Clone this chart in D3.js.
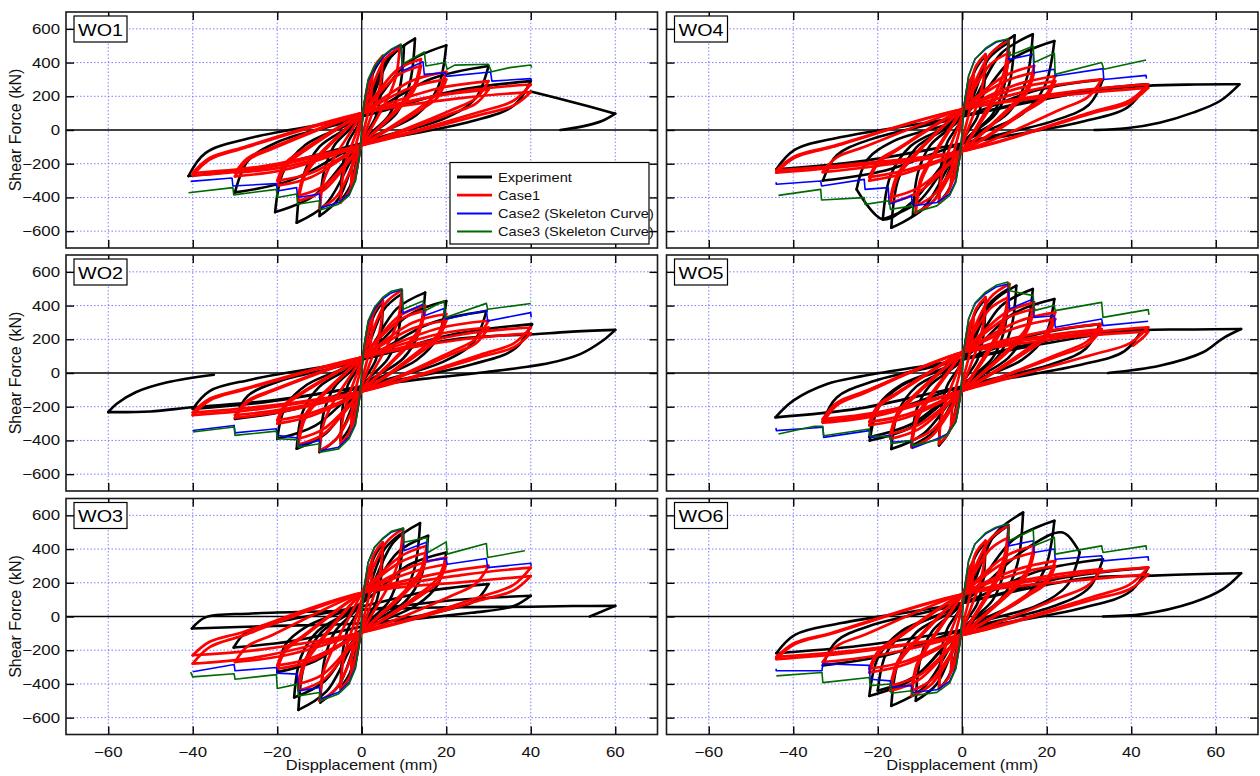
<!DOCTYPE html>
<html>
<head>
<meta charset="utf-8">
<script src="https://cdn.jsdelivr.net/npm/d3@7"></script>
<style>
  body { margin: 0; background: #fff; }
  svg { display: block; font-family: "Liberation Sans", Arial, sans-serif; }
</style>
</head>
<body>
<div id="chart"></div>
<script>
// ---- tick values and names ----
const xTicks = [-60, -40, -20, 0, 20, 40, 60];
const yTicks = [-600, -400, -200, 0, 200, 400, 600];
const panelNames = ['WO1', 'WO2', 'WO3', 'WO4', 'WO5', 'WO6'];
const seriesNames = ['Experiment', 'Case1', 'Case2 (Skeleton Curve)', 'Case3 (Skeleton Curve)'];

// ---- WO1 ----  (loops are [displacement mm, shear kN])
const wo1Experiment = [
  [[5,430],[4.5,215],[3.3,77],[0,-70],[-2.8,-336],[-5,-420],[-4.5,-210],[-3.3,-76],[0,70],[2.8,344]],
  [[10,500],[9,250],[6.5,90],[0,-80],[-5.5,-408],[-10,-510],[-9,-255],[-6.5,-92],[0,80],[5.5,400]],
  [[12.6,542],[11.3,271],[8.2,98],[0,-80],[-8.5,-440],[-15.4,-550],[-13.9,-275],[-10,-99],[0,80],[6.9,434]],
  [[20,502],[18,251],[13,90],[0,-80],[-11.3,-390],[-20.5,-487],[-18.5,-244],[-13.3,-88],[0,80],[11,402]],
  [[30,380],[27,190],[19.5,68],[0,-80],[-16.5,-296],[-30,-370],[-27,-185],[-19.5,-67],[0,80],[16.5,304]],
  [[40,290],[36,145],[26,52],[0,-80],[-22.5,-218],[-41,-273],[-37,-137],[-26.7,-49],[0,80],[22,232]]
];
const wo1ExperimentTail = [
  [[40,229],[50,165],[60,97],[57,55],[52,20],[47,0]]
];
const wo1Case1 = [
  [[2.5,320],[2.25,208],[1.75,128],[0,-50],[-1.5,-272],[-2.5,-320],[-2.25,-208],[-1.75,-128],[0,50],[1.5,272]],
  [[5,440],[4.5,286],[3.5,176],[0,-80],[-3,-366],[-5,-430],[-4.5,-280],[-3.5,-172],[0,80],[3,374]],
  [[9,490],[8.1,318],[6.3,196],[0,-90],[-6,-395],[-10,-465],[-9,-302],[-7,-186],[0,100],[5.4,416]],
  [[14,420],[12.6,273],[9.8,168],[0,-90],[-9,-357],[-15,-420],[-13.5,-273],[-10.5,-168],[0,100],[8.4,357]],
  [[14,380],[12.6,247],[9.8,152],[0,-90],[-9,-332],[-15,-390],[-13.5,-254],[-10.5,-156],[0,100],[8.4,323]],
  [[20,345],[18,224],[14,138],[0,-90],[-12,-280],[-20,-330],[-18,-214],[-14,-132],[0,100],[12,293]],
  [[20,300],[18,195],[14,120],[0,-90],[-12,-255],[-20,-300],[-18,-195],[-14,-120],[0,100],[12,255]],
  [[30,290],[27,188],[21,116],[0,-90],[-18,-234],[-30,-275],[-27,-179],[-21,-110],[0,100],[18,246]],
  [[30,240],[27,156],[21,96],[0,-90],[-18,-217],[-30,-255],[-27,-166],[-21,-102],[0,100],[18,204]],
  [[40,270],[36,175],[28,108],[0,-90],[-24,-230],[-40,-270],[-36,-175],[-28,-108],[0,100],[24,230]],
  [[40,225],[36,146],[28,90],[0,-90],[-24,-217],[-40,-255],[-36,-166],[-28,-102],[0,100],[24,191]]
];
const wo1Case2 = [
  [[0,0],[0.5,150],[1.5,290],[3,370],[5,430],[7,475],[9.3,505],[9.6,350],[14.5,405],[14.8,330],[19.8,340],[20,318],[30.5,344],[30.8,290],[40,305],[40.2,290]],
  [[0,0],[-0.5,-150],[-1.5,-300],[-3,-380],[-5.5,-430],[-9.8,-462],[-10,-380],[-15.2,-400],[-15.4,-342],[-20,-362],[-20.2,-318],[-30.5,-332],[-30.7,-285],[-40.5,-305]]
];
const wo1Case3 = [
  [[0,0],[0.5,150],[1.5,300],[3,380],[5,440],[7,480],[9.3,510],[9.6,390],[14.8,463],[15.2,380],[19.8,400],[20.2,360],[22,385],[30,390],[30.7,345],[35,370],[40,386],[40.2,370]],
  [[0,0],[-0.5,-150],[-1.5,-300],[-3,-390],[-5.5,-440],[-9.8,-475],[-10,-420],[-15.2,-440],[-15.4,-380],[-20,-400],[-20.2,-352],[-30.3,-385],[-30.5,-342],[-41,-372]]
];

// ---- WO2 ----
const wo2Experiment = [
  [[5,420],[4.5,210],[3.3,76],[0,-70],[-2.8,-320],[-5,-400],[-4.5,-200],[-3.3,-72],[0,70],[2.8,336]],
  [[9.5,470],[8.6,235],[6.2,85],[0,-80],[-5.5,-375],[-10,-469],[-9,-235],[-6.5,-84],[0,80],[5.2,376]],
  [[15,477],[13.5,239],[9.8,86],[0,-80],[-8.5,-359],[-15.4,-449],[-13.9,-225],[-10,-81],[0,80],[8.3,382]],
  [[20,427],[18,214],[13,77],[0,-80],[-11,-312],[-20,-390],[-18,-195],[-13,-70],[0,80],[11,342]],
  [[29.5,368],[26.5,184],[19.2,66],[0,-80],[-16.5,-218],[-30,-272],[-27,-136],[-19.5,-49],[0,80],[16.2,294]],
  [[40.3,290],[36.3,145],[26.2,52],[0,-80],[-22,-170],[-40,-213],[-36,-107],[-26,-38],[0,80],[22.2,232]]
];
const wo2ExperimentTail = [
  [[0,-80],[-22,-165],[-40,-203],[-50,-228],[-60,-232],[-58,-183],[-53.5,-114],[-46,-55],[-35,-10]],
  [[0,80],[22,200],[40.8,230],[49,244],[60,256],[57,191],[51.7,112],[44.4,59],[29,4],[14.5,-35],[5,-65]]
];
const wo2Case1 = [
  [[2.5,320],[2.25,208],[1.75,128],[0,-50],[-1.5,-272],[-2.5,-320],[-2.25,-208],[-1.75,-128],[0,50],[1.5,272]],
  [[5,430],[4.5,280],[3.5,172],[0,-80],[-3,-357],[-5,-420],[-4.5,-273],[-3.5,-168],[0,80],[3,366]],
  [[9.5,490],[8.6,318],[6.7,196],[0,-110],[-6,-391],[-10,-460],[-9,-299],[-7,-184],[0,93],[5.7,416]],
  [[15,400],[13.5,260],[10.5,160],[0,-110],[-9,-361],[-15,-425],[-13.5,-276],[-10.5,-170],[0,93],[9,340]],
  [[15,370],[13.5,240],[10.5,148],[0,-110],[-9,-332],[-15,-390],[-13.5,-254],[-10.5,-156],[0,93],[9,315]],
  [[20,350],[18,228],[14,140],[0,-110],[-12,-255],[-20,-300],[-18,-195],[-14,-120],[0,93],[12,298]],
  [[20,310],[18,202],[14,124],[0,-110],[-12,-238],[-20,-280],[-18,-182],[-14,-112],[0,93],[12,264]],
  [[30,310],[27,202],[21,124],[0,-110],[-18,-225],[-30,-265],[-27,-172],[-21,-106],[0,93],[18,264]],
  [[30,270],[27,176],[21,108],[0,-110],[-18,-213],[-30,-250],[-27,-163],[-21,-100],[0,93],[18,230]],
  [[40,270],[36,176],[28,108],[0,-110],[-24,-213],[-40,-250],[-36,-163],[-28,-100],[0,93],[24,230]],
  [[40,235],[36,153],[28,94],[0,-110],[-24,-200],[-40,-235],[-36,-153],[-28,-94],[0,93],[24,200]]
];
const wo2Case2 = [
  [[0,0],[0.5,150],[1.5,300],[3,380],[5,440],[7,475],[9.5,495],[9.8,355],[14.5,408],[14.8,339],[19.5,382],[19.8,319],[29.5,372],[29.8,309],[40,358],[40.1,330]],
  [[0,0],[-0.5,-150],[-1.5,-300],[-3,-380],[-5.5,-440],[-9.8,-462],[-10,-400],[-15,-430],[-15.2,-386],[-20,-370],[-20.2,-331],[-30,-355],[-30.2,-311],[-40,-341]]
];
const wo2Case3 = [
  [[0,0],[0.5,150],[1.5,310],[3,390],[5,450],[7,485],[9.5,500],[9.8,378],[14.5,427],[14.8,368],[19.5,427],[19.8,329],[29.5,413],[29.8,378],[40,412]],
  [[0,0],[-0.5,-150],[-1.5,-310],[-3,-390],[-5.5,-450],[-9.8,-470],[-10,-420],[-15,-440],[-15.2,-395],[-20,-390],[-20.2,-345],[-30,-370],[-30.2,-320],[-40,-350]]
];

// ---- WO3 ----
const wo3Experiment = [
  [[5,430],[4.5,215],[3.3,77],[0,-70],[-2.8,-336],[-5,-420],[-4.5,-210],[-3.3,-76],[0,70],[2.8,344]],
  [[9.8,500],[8.8,250],[6.4,90],[0,-80],[-5.4,-408],[-9.8,-510],[-8.8,-255],[-6.4,-92],[0,80],[5.4,400]],
  [[13.8,554],[12.4,277],[9,100],[0,-80],[-8.3,-443],[-15,-554],[-13.5,-277],[-9.8,-100],[0,80],[7.6,443]],
  [[15.7,479],[14.1,240],[10.2,86],[0,-80],[-8.8,-384],[-16,-480],[-14.4,-240],[-10.4,-86],[0,80],[8.6,383]],
  [[20,380],[18,190],[13,68],[0,-80],[-11,-264],[-20,-330],[-18,-165],[-13,-59],[0,80],[11,304]],
  [[30,192],[27,96],[19.5,35],[0,-60],[-16.7,-147],[-30.3,-184],[-27.3,-92],[-19.7,-33],[0,60],[16.5,154]],
  [[40,123],[36,62],[26,22],[0,-40],[-22,-57],[-40.2,-71],[-37,-5],[-26,18],[0,40],[22,98]]
];
const wo3ExperimentTail = [
  [[0,40],[20,55],[40,58],[50,62],[60,63],[54,0]]
];
const wo3Case1 = [
  [[2.5,320],[2.25,208],[1.75,128],[0,-60],[-1.5,-272],[-2.5,-320],[-2.25,-208],[-1.75,-128],[0,60],[1.5,272]],
  [[5,440],[4.5,286],[3.5,176],[0,-90],[-3,-366],[-5,-430],[-4.5,-280],[-3.5,-172],[0,100],[3,374]],
  [[9.8,520],[8.8,338],[6.9,208],[0,-95],[-6,-425],[-10,-500],[-9,-325],[-7,-200],[0,140],[5.9,442]],
  [[15.4,420],[13.9,273],[10.8,168],[0,-95],[-9,-374],[-15,-440],[-13.5,-286],[-10.5,-176],[0,140],[9.2,357]],
  [[15.4,380],[13.9,247],[10.8,152],[0,-95],[-9,-340],[-15,-400],[-13.5,-260],[-10.5,-160],[0,140],[9.2,323]],
  [[20,350],[18,228],[14,140],[0,-95],[-12,-264],[-20,-310],[-18,-202],[-14,-124],[0,140],[12,298]],
  [[20,310],[18,202],[14,124],[0,-95],[-12,-247],[-20,-290],[-18,-189],[-14,-116],[0,140],[12,264]],
  [[30,300],[27,195],[21,120],[0,-95],[-18,-230],[-30,-270],[-27,-176],[-21,-108],[0,140],[18,255]],
  [[40,290],[36,189],[28,116],[0,-95],[-24,-238],[-40,-280],[-36,-182],[-28,-112],[0,140],[24,247]],
  [[40,240],[36,156],[28,96],[0,-95],[-24,-196],[-40,-230],[-36,-150],[-28,-92],[0,140],[24,204]]
];
const wo3Case2 = [
  [[0,0],[0.5,160],[1.5,320],[3,410],[5,460],[7,500],[9.8,522],[10,390],[15.3,440],[15.5,330],[20,345],[20.2,310],[29.5,344],[29.8,290],[40,316],[40.1,300]],
  [[0,0],[-0.5,-150],[-1.5,-300],[-3,-390],[-5.5,-450],[-9.8,-490],[-10,-421],[-15,-441],[-15.2,-342],[-20,-336],[-20.2,-303],[-30,-322],[-30.2,-285],[-40,-328]]
];
const wo3Case3 = [
  [[0,0],[0.5,160],[1.5,320],[3,410],[5,465],[7,505],[9.8,525],[10,440],[15.5,469],[15.7,380],[20,443],[20.2,370],[29.5,433],[29.8,350],[38.6,390]],
  [[0,0],[-0.5,-150],[-1.5,-310],[-3,-400],[-5.5,-460],[-9.8,-500],[-10,-451],[-15,-471],[-15.2,-401],[-20,-427],[-20.2,-345],[-30,-372],[-30.2,-340],[-40,-358],[-40.5,-330]]
];

// ---- WO4 ----
const wo4Experiment = [
  [[5.5,440],[5,220],[3.6,79],[0,-70],[-3,-344],[-5.5,-430],[-5,-215],[-3.6,-77],[0,70],[3,352]],
  [[11,520],[9.9,260],[7.2,94],[0,-80],[-6.4,-408],[-11.7,-510],[-10.5,-255],[-7.6,-92],[0,80],[6,416]],
  [[12.4,562],[11.2,281],[8.1,101],[0,-80],[-9.2,-464],[-16.8,-580],[-15.1,-290],[-10.9,-104],[0,80],[6.8,450]],
  [[16.7,568],[15,284],[10.9,102],[0,-80],[-10.3,-424],[-18.8,-530],[-16.9,-265],[-12.2,-95],[0,80],[9.2,454]],
  [[21.8,528],[19.6,264],[14.2,95],[0,-80],[-12,-430],[-18.8,-530],[-25,-352],[-22.5,-176],[-16,-63],[0,80],[12,422]],
  [[33.3,300],[30,150],[21.6,54],[0,-80],[-18.2,-240],[-33,-300],[-29.7,-150],[-21.5,-54],[0,80],[18.3,240]],
  [[43.5,271],[39.2,136],[28.3,49],[0,-80],[-24.2,-186],[-44,-233],[-39.6,-117],[-28.6,-42],[0,80],[24,217]]
];
const wo4ExperimentTail = [
  [[0,80],[30,230],[43.5,262],[55,270],[65.6,271],[61,172],[54.6,103],[46.7,43],[38.8,10],[31.3,0]]
];
const wo4Case1 = [
  [[2.7,330],[2.4,215],[1.9,132],[0,-60],[-1.6,-272],[-2.7,-320],[-2.4,-208],[-1.9,-128],[0,60],[1.6,280]],
  [[5.5,450],[5,292],[3.9,180],[0,-90],[-3.3,-366],[-5.5,-430],[-5,-280],[-3.9,-172],[0,90],[3.3,382]],
  [[11,530],[9.9,345],[7.7,212],[0,-125],[-6.6,-416],[-11,-490],[-9.9,-318],[-7.7,-196],[0,123],[6.6,450]],
  [[11.2,459],[10,298],[7.8,184],[0,-125],[-6.6,-382],[-11,-450],[-9.9,-292],[-7.7,-180],[0,123],[6.7,390]],
  [[17,380],[15.3,247],[11.9,152],[0,-125],[-10.2,-366],[-17,-431],[-15.3,-280],[-11.9,-172],[0,123],[10.2,323]],
  [[17,340],[15.3,221],[11.9,136],[0,-125],[-10.2,-340],[-17,-400],[-15.3,-260],[-11.9,-160],[0,123],[10.2,289]],
  [[22,320],[19.8,208],[15.4,128],[0,-125],[-13.2,-255],[-22,-300],[-19.8,-195],[-15.4,-120],[0,123],[13.2,272]],
  [[22,290],[19.8,189],[15.4,116],[0,-125],[-13.2,-238],[-22,-280],[-19.8,-182],[-15.4,-112],[0,123],[13.2,247]],
  [[33,300],[29.7,195],[23.1,120],[0,-125],[-19.8,-212],[-33,-250],[-29.7,-162],[-23.1,-100],[0,123],[19.8,255]],
  [[44,271],[39.6,176],[30.8,108],[0,-125],[-26.4,-215],[-44,-253],[-39.6,-164],[-30.8,-101],[0,123],[26.4,230]],
  [[44,250],[39.6,162],[30.8,100],[0,-125],[-26.4,-204],[-44,-240],[-39.6,-156],[-30.8,-96],[0,123],[26.4,212]]
];
const wo4Case2 = [
  [[0,0],[0.5,160],[1.5,320],[3,420],[5.5,480],[8,520],[10.8,538],[11,419],[16.8,449],[17,340],[21.8,360],[22,320],[33.3,364],[33.5,300],[43.5,324],[43.6,305]],
  [[0,0],[-0.5,-150],[-1.5,-300],[-3,-380],[-6,-430],[-11.8,-451],[-12,-392],[-17.3,-441],[-17.5,-342],[-23,-352],[-23.2,-293],[-33.3,-332],[-33.5,-303],[-44,-322],[-44.1,-310]]
];
const wo4Case3 = [
  [[0,0],[0.5,160],[1.5,320],[3,420],[5.5,485],[8,525],[10.8,540],[11,439],[16.8,498],[17,400],[21.8,455],[22,330],[33,400],[33.5,360],[43.5,415]],
  [[0,0],[-0.5,-150],[-1.5,-310],[-3,-390],[-6,-450],[-11.5,-490],[-11.8,-450],[-17,-471],[-17.3,-420],[-23,-441],[-23.2,-401],[-33.3,-415],[-33.5,-352],[-43.5,-388]]
];

// ---- WO5 ----
const wo5Experiment = [
  [[5.5,440],[5,220],[3.6,79],[0,-70],[-3,-344],[-5.5,-430],[-5,-215],[-3.6,-77],[0,70],[3,352]],
  [[11,500],[9.9,250],[7.2,90],[0,-80],[-6.6,-345],[-12,-431],[-10.8,-216],[-7.8,-78],[0,80],[6,400]],
  [[12.8,518],[11.5,259],[8.3,93],[0,-80],[-9.2,-361],[-16.8,-451],[-15.1,-226],[-10.9,-81],[0,80],[7,414]],
  [[16.7,498],[15,249],[10.9,90],[0,-80],[-12,-321],[-21.9,-401],[-19.7,-200],[-14.2,-72],[0,80],[9.2,398]],
  [[21.8,439],[19.6,220],[14.2,79],[0,-80],[-12.1,-304],[-22,-380],[-19.8,-190],[-14.3,-68],[0,80],[12,351]],
  [[32.5,290],[29.3,145],[21.1,52],[0,-80],[-18.2,-232],[-33,-290],[-29.7,-145],[-21.5,-52],[0,80],[17.9,232]],
  [[42.7,261],[38.4,130],[27.8,47],[0,-80],[-24.3,-210],[-44.2,-263],[-40,-164],[-32,-65],[-24,-20],[0,80],[23.5,209]]
];
const wo5ExperimentTail = [
  [[0,80],[30,220],[42.7,255],[55,258],[66,261],[61.7,206],[57,123],[46.7,43],[34.5,0]]
];
const wo5Case1 = [
  [[2.7,330],[2.4,215],[1.9,132],[0,-60],[-1.6,-280],[-2.7,-330],[-2.4,-215],[-1.9,-132],[0,60],[1.6,280]],
  [[5.5,450],[5,292],[3.9,180],[0,-90],[-3.3,-357],[-5.5,-420],[-5,-273],[-3.9,-168],[0,90],[3.3,382]],
  [[11.2,528],[10,343],[7.8,211],[0,-105],[-7.2,-374],[-12,-440],[-10.8,-286],[-8.4,-176],[0,123],[6.7,449]],
  [[11,450],[9.9,292],[7.7,180],[0,-105],[-7.2,-340],[-12,-400],[-10.8,-260],[-8.4,-160],[0,123],[6.6,382]],
  [[17,419],[15.3,272],[11.9,168],[0,-105],[-10.2,-331],[-17,-390],[-15.3,-253],[-11.9,-156],[0,123],[10.2,356]],
  [[17,380],[15.3,247],[11.9,152],[0,-105],[-10.2,-306],[-17,-360],[-15.3,-234],[-11.9,-144],[0,123],[10.2,323]],
  [[22,360],[19.8,234],[15.4,144],[0,-105],[-13.2,-264],[-22,-310],[-19.8,-202],[-15.4,-124],[0,123],[13.2,306]],
  [[22,320],[19.8,208],[15.4,128],[0,-105],[-13.2,-247],[-22,-290],[-19.8,-189],[-15.4,-116],[0,123],[13.2,272]],
  [[33,291],[29.7,189],[23.1,116],[0,-105],[-19.8,-232],[-33,-273],[-29.7,-177],[-23.1,-109],[0,123],[19.8,247]],
  [[33,260],[29.7,169],[23.1,104],[0,-105],[-19.8,-251],[-33,-295],[-29.7,-192],[-23.1,-118],[0,123],[19.8,221]],
  [[44,271],[39.6,176],[30.8,108],[0,-105],[-19.8,-238],[-33,-280],[-29.7,-182],[-23.1,-112],[0,123],[26.4,230]]
];
const wo5Case1Tail = [
  [[0,123],[26.4,215],[44,245],[43,215],[40.4,162]]
];
const wo5Case2 = [
  [[0,0],[0.5,160],[1.5,320],[3,410],[5.5,470],[8,510],[10.8,528],[11.2,380],[16.8,439],[17,330],[21.8,340],[22,271],[33,320],[33.3,281],[44,307]],
  [[0,0],[-0.5,-150],[-1.5,-290],[-3.5,-360],[-5.5,-385],[-11.8,-447],[-12,-401],[-16.8,-411],[-17,-372],[-21.8,-382],[-22,-342],[-32.8,-382],[-33,-322],[-44,-342],[-44.1,-325]]
];
const wo5Case3 = [
  [[0,0],[0.5,160],[1.5,320],[3,415],[5.5,480],[8,520],[10.8,540],[11.2,488],[16.8,459],[17,370],[21.8,400],[22,370],[33,419],[33.3,330],[44,376],[44.2,345]],
  [[0,0],[-0.5,-150],[-1.5,-290],[-3.5,-365],[-5.5,-395],[-11.8,-431],[-12,-400],[-16.8,-420],[-17,-380],[-21.8,-372],[-22,-332],[-32.8,-372],[-33,-316],[-35,-316],[-43.5,-362]]
];

// ---- WO6 ----
const wo6Experiment = [
  [[5.5,440],[5,220],[3.6,79],[0,-70],[-3,-344],[-5.5,-430],[-5,-215],[-3.6,-77],[0,70],[3,352]],
  [[11,540],[9.9,270],[7.2,97],[0,-80],[-6,-400],[-11,-500],[-9.9,-250],[-7.2,-90],[0,80],[6,432]],
  [[14.4,617],[13,308],[9.4,111],[0,-80],[-9.2,-424],[-16.8,-530],[-15.1,-265],[-10.9,-95],[0,80],[7.9,494]],
  [[21.8,568],[19.6,284],[14.2,102],[0,-80],[-12.1,-377],[-22,-471],[-19.8,-236],[-14.3,-85],[0,80],[12,454]],
  [[27.8,380],[25,190],[18,68],[0,-80],[-11,-352],[-20,-440],[-18,-220],[-13,-79],[0,80],[15,400],[23.8,498]],
  [[33.3,340],[30,170],[21.6,61],[0,-80],[-18.2,-232],[-33,-290],[-29.7,-145],[-21.5,-52],[0,80],[18.3,272]],
  [[44,290],[39.6,145],[28.6,52],[0,-80],[-24.2,-174],[-44,-218],[-39.6,-109],[-28.6,-39],[0,80],[24.2,232]]
];
const wo6ExperimentTail = [
  [[0,80],[30,230],[43.5,241],[54.6,251],[66,257],[61.7,162],[54.6,83],[42.7,14],[33.3,0]]
];
const wo6Case1 = [
  [[2.7,330],[2.4,215],[1.9,132],[0,-60],[-1.6,-280],[-2.7,-330],[-2.4,-215],[-1.9,-132],[0,60],[1.6,280]],
  [[5.5,450],[5,292],[3.9,180],[0,-90],[-3.3,-366],[-5.5,-430],[-5,-280],[-3.9,-172],[0,90],[3.3,382]],
  [[11,540],[9.9,351],[7.7,216],[0,-110],[-7.2,-400],[-12,-471],[-10.8,-306],[-8.4,-188],[0,132],[6.6,459]],
  [[11,469],[9.9,305],[7.7,188],[0,-110],[-7.2,-374],[-12,-440],[-10.8,-286],[-8.4,-176],[0,132],[6.6,399]],
  [[17,420],[15.3,273],[11.9,168],[0,-110],[-10.2,-375],[-17,-441],[-15.3,-287],[-11.9,-176],[0,132],[10.2,357]],
  [[17,380],[15.3,247],[11.9,152],[0,-110],[-10.2,-349],[-17,-410],[-15.3,-267],[-11.9,-164],[0,132],[10.2,323]],
  [[22,330],[19.8,215],[15.4,132],[0,-110],[-13.2,-282],[-22,-332],[-19.8,-216],[-15.4,-133],[0,132],[13.2,281]],
  [[22,300],[19.8,195],[15.4,120],[0,-110],[-13.2,-264],[-22,-310],[-19.8,-202],[-15.4,-124],[0,132],[13.2,255]],
  [[33,281],[29.7,183],[23.1,112],[0,-110],[-19.8,-230],[-33,-270],[-29.7,-176],[-23.1,-108],[0,132],[19.8,239]],
  [[44,291],[39.6,189],[30.8,116],[0,-110],[-26.4,-215],[-44,-253],[-39.6,-164],[-30.8,-101],[0,132],[26.4,247]],
  [[44,250],[39.6,162],[30.8,100],[0,-110],[-26.4,-204],[-44,-240],[-39.6,-156],[-30.8,-96],[0,132],[26.4,212]]
];
const wo6Case2 = [
  [[0,0],[0.5,160],[1.5,330],[3,430],[5.5,490],[8,525],[10.8,548],[11,419],[16.8,449],[17,380],[21.8,400],[22,340],[33,360],[33.3,330],[44,354],[44.1,330]],
  [[0,0],[-0.5,-150],[-1.5,-300],[-3,-385],[-6,-435],[-11.8,-451],[-12,-410],[-16.8,-420],[-17,-382],[-21.8,-372],[-22,-290],[-33,-280],[-33.2,-322],[-44,-322],[-44.1,-310]]
];
const wo6Case3 = [
  [[0,0],[0.5,160],[1.5,330],[3,430],[5.5,495],[8,530],[10.8,550],[11,449],[16.8,514],[17,420],[21.8,469],[22,370],[33,419],[33.3,380],[43.5,419],[43.6,395]],
  [[0,0],[-0.5,-150],[-1.5,-310],[-3,-395],[-6,-450],[-11.8,-470],[-12,-440],[-16.8,-455],[-17,-400],[-21.8,-410],[-22,-362],[-33,-392],[-33.2,-332],[-44,-352]]
];

// ---- layout ----
const config = {
  width: 1260,
  height: 776,
  colX: [66, 666.5],
  rowY: [12, 255, 498.5],
  panelWidth: 591.5,
  panelHeight: 236,
  tickLength: 8,
  textStretch: 1.16,
  colours: ['#000000', '#ff0000', '#0000ff', '#006a00'],
  widths: [2.6, 2.7, 1.6, 1.6],
};

const panels = [
  { name: panelNames[0], col: 0, row: 0, exp: wo1Experiment, expTail: wo1ExperimentTail, case1: wo1Case1, case1Tail: [], case2: wo1Case2, case3: wo1Case3 },
  { name: panelNames[1], col: 0, row: 1, exp: wo2Experiment, expTail: wo2ExperimentTail, case1: wo2Case1, case1Tail: [], case2: wo2Case2, case3: wo2Case3 },
  { name: panelNames[2], col: 0, row: 2, exp: wo3Experiment, expTail: wo3ExperimentTail, case1: wo3Case1, case1Tail: [], case2: wo3Case2, case3: wo3Case3 },
  { name: panelNames[3], col: 1, row: 0, exp: wo4Experiment, expTail: wo4ExperimentTail, case1: wo4Case1, case1Tail: [], case2: wo4Case2, case3: wo4Case3 },
  { name: panelNames[4], col: 1, row: 1, exp: wo5Experiment, expTail: wo5ExperimentTail, case1: wo5Case1, case1Tail: wo5Case1Tail, case2: wo5Case2, case3: wo5Case3 },
  { name: panelNames[5], col: 1, row: 2, exp: wo6Experiment, expTail: wo6ExperimentTail, case1: wo6Case1, case1Tail: [], case2: wo6Case2, case3: wo6Case3 },
];

const svg = d3.select('#chart').append('svg')
  .attr('width', config.width)
  .attr('height', config.height);

const x = d3.scaleLinear().domain([-70, 70]).range([0, config.panelWidth]);
const y = d3.scaleLinear().domain([-700, 700]).range([config.panelHeight, 0]);

const smoothLine = d3.line()
  .x((d) => x(d[0]))
  .y((d) => y(d[1]))
  .curve(d3.curveCatmullRom.alpha(0.5));

const straightLine = d3.line()
  .x((d) => x(d[0]))
  .y((d) => y(d[1]));

// break a load path into branches wherever the displacement changes direction,
// so the reversal tips stay sharp while each branch is smoothed
function splitBranches(pts) {
  const out = [];
  let cur = [pts[0]];
  let dir = 0;
  for (let i = 1; i < pts.length; i++) {
    const s = Math.sign(pts[i][0] - pts[i - 1][0]);
    if (dir !== 0 && s !== 0 && s !== dir) {
      out.push(cur);
      cur = [pts[i - 1]];
    }
    if (s !== 0) dir = s;
    cur.push(pts[i]);
  }
  out.push(cur);
  return out;
}

function stretchedText(g, tx, ty, str, size, anchor) {
  return g.append('text')
    .attr('transform', `translate(${tx},${ty}) scale(${config.textStretch},1)`)
    .attr('text-anchor', anchor || 'start')
    .style('font-size', `${size}px`)
    .text(str);
}

panels.forEach((p, idx) => {
  const g = svg.append('g')
    .attr('transform', `translate(${config.colX[p.col]},${config.rowY[p.row]})`);

  const clipId = `clip-${idx}`;
  g.append('clipPath').attr('id', clipId)
    .append('rect')
    .attr('width', config.panelWidth)
    .attr('height', config.panelHeight);

  // grid
  g.append('g').selectAll('line')
    .data(xTicks.filter((t) => t !== 0))
    .join('line')
    .attr('x1', (d) => x(d)).attr('x2', (d) => x(d))
    .attr('y1', 0).attr('y2', config.panelHeight)
    .attr('stroke', '#7070ff').attr('stroke-width', 0.9)
    .attr('stroke-dasharray', '1.5,2');
  g.append('g').selectAll('line')
    .data(yTicks.filter((t) => t !== 0))
    .join('line')
    .attr('x1', 0).attr('x2', config.panelWidth)
    .attr('y1', (d) => y(d)).attr('y2', (d) => y(d))
    .attr('stroke', '#7070ff').attr('stroke-width', 0.9)
    .attr('stroke-dasharray', '1.5,2');

  // zero lines
  g.append('line')
    .attr('x1', x(0)).attr('x2', x(0)).attr('y1', 0).attr('y2', config.panelHeight)
    .attr('stroke', '#000').attr('stroke-width', 1.3);
  g.append('line')
    .attr('x1', 0).attr('x2', config.panelWidth).attr('y1', y(0)).attr('y2', y(0))
    .attr('stroke', '#000').attr('stroke-width', 1.3);

  const plot = g.append('g').attr('clip-path', `url(#${clipId})`);

  const drawLoops = (loops, tails, i) => {
    const branches = [];
    loops.forEach((loop) => splitBranches(loop.concat([loop[0]])).forEach((b) => branches.push(b)));
    tails.forEach((t) => splitBranches(t).forEach((b) => branches.push(b)));
    plot.append('g').selectAll('path')
      .data(branches)
      .join('path')
      .attr('d', smoothLine)
      .attr('fill', 'none')
      .attr('stroke', config.colours[i])
      .attr('stroke-width', config.widths[i])
      .attr('stroke-linejoin', 'round')
      .attr('stroke-linecap', 'round');
  };
  const drawSkeleton = (paths, i) => {
    plot.append('g').selectAll('path')
      .data(paths)
      .join('path')
      .attr('d', straightLine)
      .attr('fill', 'none')
      .attr('stroke', config.colours[i])
      .attr('stroke-width', config.widths[i])
      .attr('stroke-linejoin', 'round');
  };

  drawLoops(p.exp, p.expTail, 0);
  drawLoops(p.case1, p.case1Tail, 1);
  drawSkeleton(p.case2, 2);
  drawSkeleton(p.case3, 3);

  // axes with inward ticks on all four sides
  const tickStyle = (a) => {
    a.select('.domain').remove();
    a.selectAll('.tick line').attr('stroke', '#000').attr('stroke-width', 1.4);
  };
  g.append('g').call(d3.axisTop(x).tickValues(xTicks).tickSize(-config.tickLength).tickFormat(''))
    .call(tickStyle);
  g.append('g').attr('transform', `translate(${config.panelWidth},0)`)
    .call(d3.axisRight(y).tickValues(yTicks).tickSize(-config.tickLength).tickFormat(''))
    .call(tickStyle);
  g.append('g').attr('transform', `translate(0,${config.panelHeight})`)
    .call(d3.axisBottom(x).tickValues(xTicks).tickSize(-config.tickLength).tickFormat(''))
    .call(tickStyle);
  g.append('g')
    .call(d3.axisLeft(y).tickValues(yTicks).tickSize(-config.tickLength).tickFormat(''))
    .call(tickStyle);

  // frame
  g.append('rect')
    .attr('width', config.panelWidth).attr('height', config.panelHeight)
    .attr('fill', 'none').attr('stroke', '#1a1a1a').attr('stroke-width', 1.6);

  // tick labels
  if (p.col === 0) {
    yTicks.forEach((t) => {
      stretchedText(g, -6, y(t) + 5, d3.format('d')(t), 14.5, 'end').attr('fill', '#111');
    });
    g.append('text')
      .attr('transform', `translate(-45,${config.panelHeight / 2}) rotate(-90)`)
      .attr('text-anchor', 'middle')
      .style('font-size', '16px')
      .attr('fill', '#111')
      .text('Shear Force (kN)');
  }
  if (p.row === 2) {
    xTicks.forEach((t) => {
      stretchedText(g, x(t), config.panelHeight + 22, d3.format('d')(t), 14.5, 'middle').attr('fill', '#111');
    });
    stretchedText(g, x(0), config.panelHeight + 35.5, 'Dispplacement (mm)', 14.2, 'middle').attr('fill', '#111');
  }

  // panel name box
  g.append('rect')
    .attr('x', 8).attr('y', 4).attr('width', 53).attr('height', 26)
    .attr('fill', '#fff').attr('stroke', '#000').attr('stroke-width', 1.2);
  stretchedText(g, 34.5, 23.5, p.name, 17, 'middle');

  // legend (first panel only)
  if (idx === 0) {
    const lg = g.append('g').attr('transform', `translate(${450 - config.colX[0]},${162.5 - config.rowY[0]})`);
    lg.append('rect')
      .attr('width', 199).attr('height', 81.5)
      .attr('fill', '#fff').attr('stroke', '#000').attr('stroke-width', 1.2);
    seriesNames.forEach((name, i) => {
      const cy = 14.5 + i * 18.2;
      lg.append('line')
        .attr('x1', 7).attr('x2', 42).attr('y1', cy).attr('y2', cy)
        .attr('stroke', config.colours[i]).attr('stroke-width', i < 2 ? 2.8 : 2);
      stretchedText(lg, 48, cy + 4.5, name, 12.6, 'start').attr('fill', '#111');
    });
  }
});
</script>
</body>
</html>
